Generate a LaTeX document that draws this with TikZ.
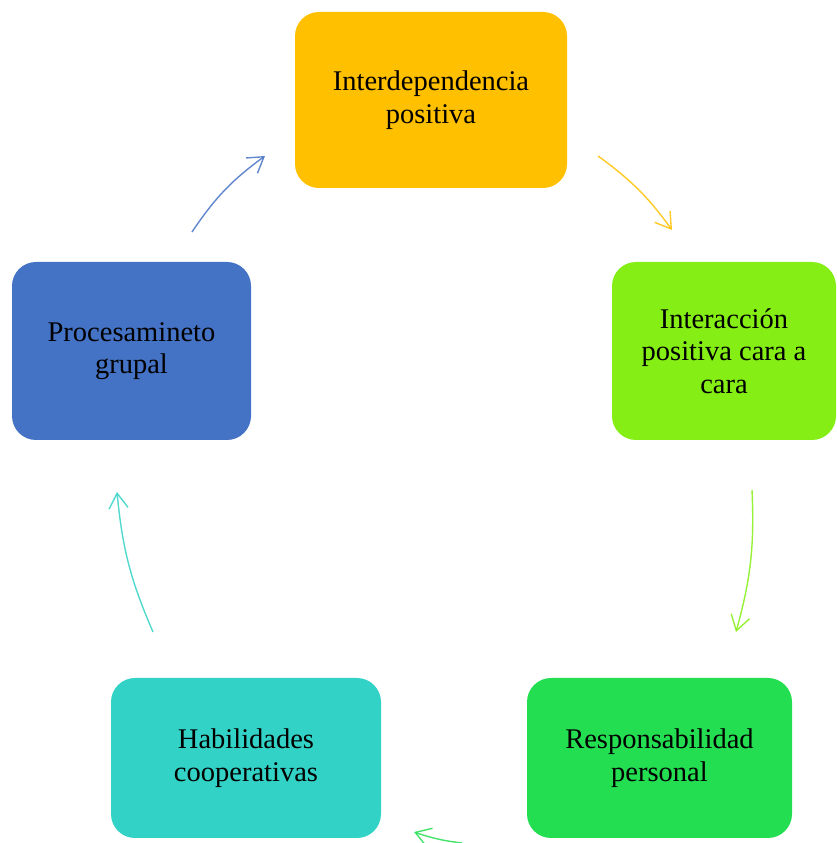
\documentclass[tikz,border=0pt]{standalone}
\usepackage{fontspec}
\setmainfont{Liberation Serif}
\usetikzlibrary{arrows.meta}
\definecolor{cgold}{HTML}{FFC000}
\definecolor{clime}{HTML}{84EE15}
\definecolor{cgreen}{HTML}{24DE52}
\definecolor{cteal}{HTML}{33D2C6}
\definecolor{cblue}{HTML}{4472C4}
\tikzset{
  box/.style={rectangle, rounded corners=24pt, draw=none, align=center,
    font=\fontsize{28.5}{32.5}\selectfont, text=black, inner sep=0pt},
  cyc/.style={line width=1.4pt, opacity=0.85, -{Straight Barb[length=15pt,width=19pt,line width=1.4pt]}}
}
\begin{document}
\begin{tikzpicture}[x=1pt,y=1pt]
\useasboundingbox (0,0) rectangle (837,843);
\node[box, fill=cgold, minimum width=272pt, minimum height=176pt] (a) at (431,743) {Interdependencia\\positiva};
\node[box, fill=clime, minimum width=224pt, minimum height=178pt] (b) at (724,492) {Interacción\\positiva cara a\\cara};
\node[box, fill=cgreen, minimum width=265pt, minimum height=160pt] (c) at (659.5,85) {Responsabilidad\\personal};
\node[box, fill=cteal, minimum width=270pt, minimum height=160pt] (d) at (246,85) {Habilidades\\cooperativas};
\node[box, fill=cblue, minimum width=239pt, minimum height=178pt] (e) at (131.5,492) {Procesamineto\\grupal};
\coordinate (e1) at (192,611); \coordinate (a0) at (265,687);
\coordinate (a1) at (598,687); \coordinate (b0) at (672,613);
\coordinate (b1) at (752,353); \coordinate (c0) at (736,211);
\coordinate (c1) at (462,0);   \coordinate (d0) at (414,11);
\coordinate (d1) at (153,211); \coordinate (e0) at (117,351);
\draw[cyc, cblue] (e1) to[bend left=10] (a0);
\draw[cyc, cgold] (a1) to[bend left=9] (b0);
\draw[cyc, clime] (b1) to[bend left=9] (c0);
\draw[cyc, cgreen] (c1) to[bend left=6] (d0);
\draw[cyc, cteal] (d1) to[bend left=9] (e0);
\end{tikzpicture}
\end{document}
